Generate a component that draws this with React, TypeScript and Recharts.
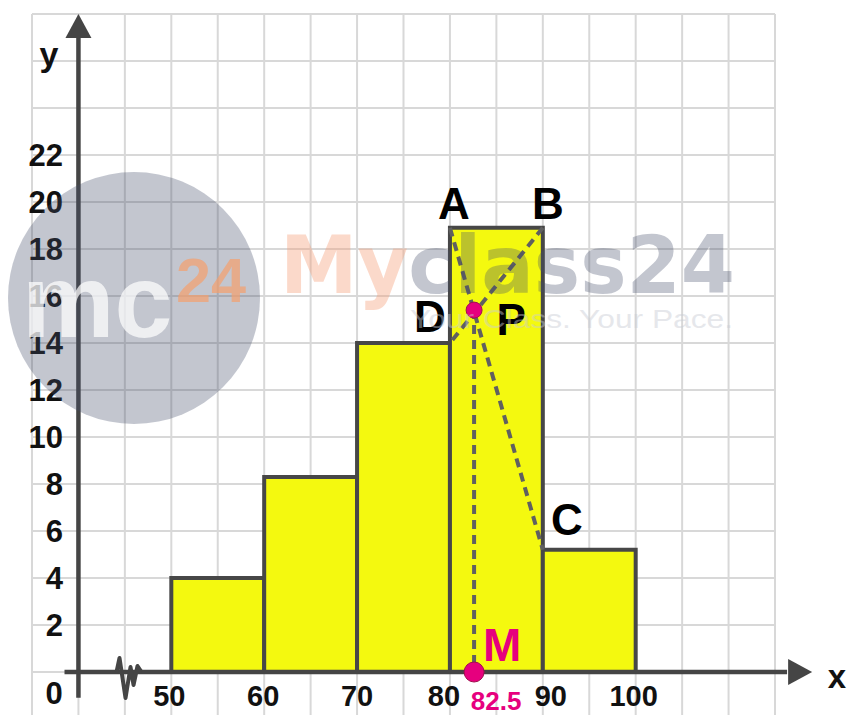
import React from 'react';
import {
  ComposedChart,
  XAxis,
  YAxis,
  CartesianGrid,
  ReferenceArea,
  ReferenceLine,
  ReferenceDot,
} from 'recharts';

// ---- data ----
const classLower = [50, 60, 70, 80, 90];
const classUpper = [60, 70, 80, 90, 100];
const frequencies = [4, 8.3, 14, 18.9, 5.2];

const xGridTicks = [35, 40, 45, 50, 55, 60, 65, 70, 75, 80, 85, 90, 95, 100, 105, 110, 115];
const yGridTicks = [0, 2, 4, 6, 8, 10, 12, 14, 16, 18, 20, 22, 24, 26, 28];
const xLabelTicks = [50, 60, 70, 80, 90, 100];
const yLabelTicks = [0, 2, 4, 6, 8, 10, 12, 14, 16, 18, 20, 22];

const pointNames = ['A', 'B', 'C', 'D', 'P', 'M'];
const pointX = [80, 90, 90, 80, 82.6, 82.6];
const pointY = [18.9, 18.9, 5.2, 14, 15.4, 0];
const modeLabel = '82.5';

// dashed construction segments (by point name)
const segmentFrom = ['A', 'B', 'P'];
const segmentTo = ['C', 'D', 'M'];

// axes (data coordinates of the drawn axis lines)
const originX = 40;
const originY = 0;
const yAxisBottom = -1.1;
const yAxisTop = 27;
const yArrowTip = 28;
const xAxisStart = 38.5;
const xAxisEnd = 116.3;
const xArrowTip = 119;
const breakX = 45.5;

// ---- styles ----
const FONT = '"Liberation Sans", Arial, sans-serif';
const AXIS_COLOR = '#454545';
const MAGENTA = '#e6007e';
const labelOffsets: Record<string, [number, number]> = {
  A: [4, -24],
  B: [5, -24],
  C: [24, -30],
  D: [-20, -27],
  P: [37, 9],
  M: [28, -27],
};
const xLabelShift: Record<number, number> = { 50: -2, 60: -1, 70: 0, 80: -6, 90: 8, 100: -2 };

const pt = (name: string) => {
  const i = pointNames.indexOf(name);
  return { x: pointX[i], y: pointY[i] };
};

const XTick = (props: any) => {
  const { x, y, payload } = props;
  const v = payload.value;
  if (!xLabelTicks.includes(v)) return <g />;
  return (
    <text
      x={x + (xLabelShift[v] || 0)}
      y={y - 23}
      textAnchor="middle"
      dominantBaseline="central"
      fontFamily={FONT}
      fontWeight="bold"
      fontSize={29}
      fill="#111"
    >
      {v}
    </text>
  );
};

const YTick = (props: any) => {
  const { x, y, payload } = props;
  const v = payload.value;
  if (!yLabelTicks.includes(v)) return <g />;
  if (v === 0) {
    return (
      <text x={x + 22} y={y + 21} textAnchor="middle" dominantBaseline="central" fontFamily={FONT} fontWeight="bold" fontSize={31} fill="#111">
        0
      </text>
    );
  }
  return (
    <text x={x + 31} y={y} textAnchor="end" dominantBaseline="central" fontFamily={FONT} fontWeight="bold" fontSize={31} fill="#111">
      {v}
    </text>
  );
};

const UpArrow = (p: any) => (
  <polygon points={`${p.cx},${p.cy} ${p.cx - 13},${p.cy + 24} ${p.cx + 13},${p.cy + 24}`} fill={AXIS_COLOR} />
);
const RightArrow = (p: any) => (
  <polygon points={`${p.cx},${p.cy} ${p.cx - 24},${p.cy - 13} ${p.cx - 24},${p.cy + 13}`} fill={AXIS_COLOR} />
);
const BreakMark = (p: any) => {
  const { cx, cy } = p;
  const d = `M${cx - 13},${cy} L${cx - 10},${cy - 14} L${cx - 4},${cy + 26} L${cx + 1},${cy - 5} L${cx + 4},${cy + 13} L${cx + 8},${cy - 6} L${cx + 12},${cy}`;
  return <path d={d} fill="none" stroke={AXIS_COLOR} strokeWidth={4} strokeLinejoin="round" />;
};

const makeLabel = (name: string, extra?: string) => (p: any) => {
  const [dx, dy] = labelOffsets[name];
  const isM = name === 'M';
  return (
    <g>
      <text
        x={p.cx + dx}
        y={p.cy + dy}
        textAnchor="middle"
        dominantBaseline="central"
        fontFamily={FONT}
        fontWeight="bold"
        fontSize={isM ? 46 : 44}
        fill={isM ? MAGENTA : '#000'}
      >
        {name}
      </text>
      {extra ? (
        <text
          x={p.cx + 22}
          y={p.cy + 29}
          textAnchor="middle"
          dominantBaseline="central"
          fontFamily={FONT}
          fontWeight="bold"
          fontSize={26}
          fill={MAGENTA}
        >
          {extra}
        </text>
      ) : null}
    </g>
  );
};

const Watermark = () => (
  <svg
    width={848}
    height={715}
    style={{ position: 'absolute', left: 0, top: 0, pointerEvents: 'none' }}
  >
    <circle cx={134} cy={298} r={126} fill="#434d69" opacity={0.32} />
    <text x={22} y={337} fontFamily={FONT} fontWeight="bold" fontSize={104} fill="#ffffff" opacity={0.72}>
      mc
    </text>
    <text x={176} y={302} fontFamily={FONT} fontWeight="bold" fontSize={63} fill="#f5a06e" opacity={0.7}>
      24
    </text>
    <text
      x={280}
      y={293}
      fontFamily='"DejaVu Sans", sans-serif'
      fontWeight="bold"
      fontSize={80}
      textLength={455}
      lengthAdjust="spacingAndGlyphs"
    >
      <tspan fill="#f49a73" fillOpacity={0.38}>My</tspan>
      <tspan fill="#434d69" fillOpacity={0.32}>class24</tspan>
    </text>
    <text
      x={410}
      y={328}
      fontFamily={FONT}
      fontSize={26}
      textLength={323}
      lengthAdjust="spacingAndGlyphs"
      fill="#c8ccd4"
      opacity={0.45}
    >
      Your Class. Your Pace.
    </text>
  </svg>
);

export default function App() {
  return (
    <div style={{ position: 'absolute', left: 0, top: 0, width: 848, height: 715, overflow: 'hidden', background: '#fff' }}>
      <ComposedChart
        width={848}
        height={730}
        margin={{ top: 14, right: 73, bottom: 10, left: 31 }}
        data={[]}
      >
        <CartesianGrid stroke="#d8d8d8" strokeWidth={2} />
        <XAxis
          type="number"
          dataKey="x"
          domain={[35, 115]}
          ticks={xGridTicks}
          interval={0}
          allowDataOverflow
          axisLine={false}
          tickLine={false}
          tickSize={0}
          tickMargin={0}
          height={1}
          tick={XTick}
        />
        <YAxis
          type="number"
          domain={[-2, 28]}
          ticks={yGridTicks}
          interval={0}
          allowDataOverflow
          axisLine={false}
          tickLine={false}
          tickSize={0}
          tickMargin={0}
          width={1}
          tick={YTick}
        />
        {frequencies.map((f, i) => (
          <ReferenceArea
            key={`bar-${i}`}
            x1={classLower[i]}
            x2={classUpper[i]}
            y1={0}
            y2={f}
            fill="#f4f90f"
            fillOpacity={1}
            stroke="#474747"
            strokeWidth={4}
            ifOverflow="visible"
          />
        ))}
        {segmentFrom.map((a, i) => {
          const p1 = pt(a);
          const p2 = pt(segmentTo[i]);
          return (
            <ReferenceLine
              key={`seg-${i}`}
              segment={[p1, p2]}
              stroke="#606060"
              strokeWidth={4}
              strokeDasharray="9 6"
              ifOverflow="visible"
            />
          );
        })}
        {/* axes */}
        <ReferenceLine
          segment={[{ x: originX, y: yAxisBottom }, { x: originX, y: yAxisTop }]}
          stroke={AXIS_COLOR}
          strokeWidth={4.5}
          ifOverflow="visible"
        />
        <ReferenceLine
          segment={[{ x: xAxisStart, y: originY }, { x: xAxisEnd, y: originY }]}
          stroke={AXIS_COLOR}
          strokeWidth={4.5}
          ifOverflow="visible"
        />
        <ReferenceDot x={originX} y={yArrowTip} r={1} ifOverflow="visible" shape={UpArrow} />
        <ReferenceDot x={xArrowTip} y={originY} r={1} ifOverflow="visible" shape={RightArrow} />
        <ReferenceDot x={breakX} y={originY} r={1} ifOverflow="visible" shape={BreakMark} />
        {/* points P and M */}
        <ReferenceDot x={pt('P').x} y={pt('P').y} r={8} fill={MAGENTA} stroke="#a0104f" strokeWidth={1} ifOverflow="visible" />
        <ReferenceDot x={pt('M').x} y={pt('M').y} r={10} fill={MAGENTA} stroke="#a0104f" strokeWidth={1} ifOverflow="visible" />
        {/* point labels */}
        {pointNames.map((n, i) => (
          <ReferenceDot
            key={`lbl-${n}`}
            x={pointX[i]}
            y={pointY[i]}
            r={1}
            ifOverflow="visible"
            shape={makeLabel(n, n === 'M' ? modeLabel : undefined)}
          />
        ))}
      </ComposedChart>
      <svg width={848} height={715} style={{ position: 'absolute', left: 0, top: 0, pointerEvents: 'none' }}>
        <text x={49} y={66} textAnchor="middle" fontFamily={FONT} fontWeight="bold" fontSize={34} fill="#111">
          y
        </text>
        <text x={837} y={688} textAnchor="middle" fontFamily={FONT} fontWeight="bold" fontSize={33} fill="#111">
          x
        </text>
      </svg>
      <Watermark />
    </div>
  );
}
